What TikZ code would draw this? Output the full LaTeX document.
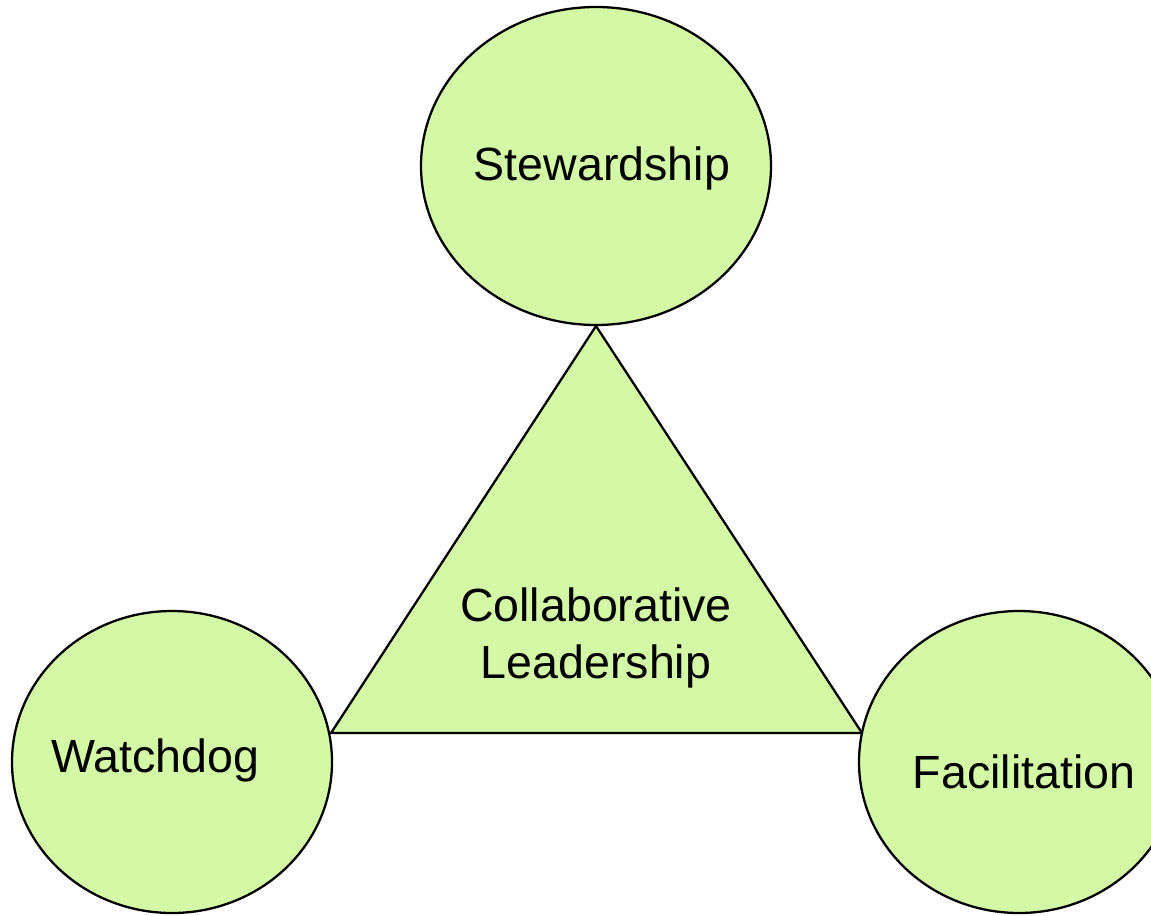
\documentclass[tikz,border=0pt]{standalone}
\usepackage{fontspec}
\setmainfont{Liberation Sans}
\usepackage{tikz}
\usetikzlibrary{shapes.geometric}
\definecolor{leafgreen}{RGB}{212,249,166}
\tikzset{
	rolebox/.style={ellipse,draw=black,line width=1.3pt,fill=leafgreen,inner sep=0pt},
	rolelabel/.style={font=\fontsize{26.5}{32.5}\selectfont,text=black}
}

\begin{document}
\begin{tikzpicture}[x=0.02cm,y=-0.02cm]
		\clip (0,0) rectangle (1151,915);
		\fill[white] (0,0) rectangle (1151,915);
		\coordinate (apex) at (596,326);
		\coordinate (left) at (331,733);
		\coordinate (right) at (862,733);
		\draw[line width=1.3pt,fill=leafgreen,line join=miter] (apex) -- (left) -- (right) -- cycle;
		\node[rolebox,minimum width=350*0.02cm,minimum height=318*0.02cm] (stew) at (596,166) {};
		\node[rolebox,minimum width=320*0.02cm,minimum height=302*0.02cm] (watch) at (172,762) {};
		\node[rolebox,minimum width=320*0.02cm,minimum height=302*0.02cm] (facil) at (1019,762) {};
		\node[rolelabel] (stewtext) at (602,168) {Stewardship};
		\node[rolelabel] (watchtext) at (155,760) {Watchdog};
		\node[rolelabel] (faciltext) at (1024,772) {Facilitation};
		\node[rolelabel,align=center] (collab) at (596,638) {Collaborative\\Leadership};
	\end{tikzpicture}
\end{document}
